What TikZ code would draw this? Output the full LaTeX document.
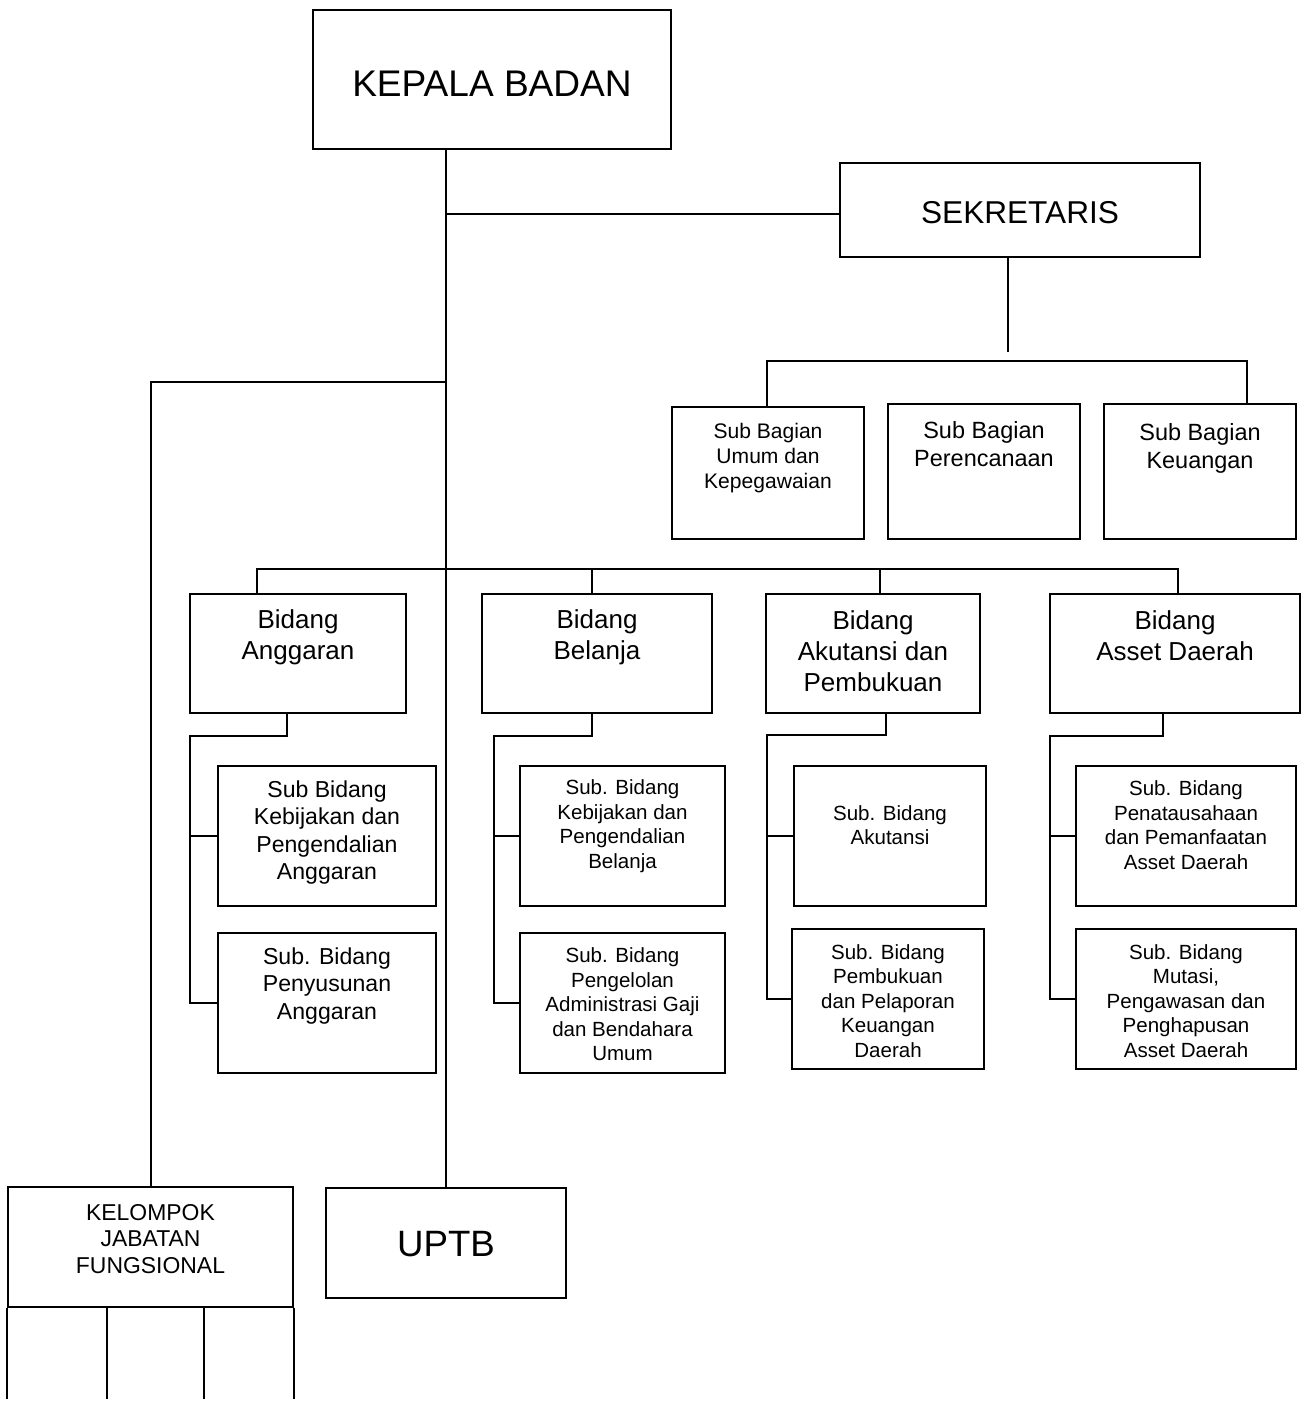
\documentclass[tikz,border=0pt]{standalone}
\usepackage{fontspec}
\setmainfont{Liberation Sans}
\newcommand\myfs[2]{\fontsize{#1}{#2}\selectfont}
\begin{document}
\begin{tikzpicture}[x=0.75pt,y=-0.75pt,
  box/.style={draw, line width=1.4pt, inner sep=0pt},
  sz/.style 2 args={minimum width=#1*0.75pt, minimum height=#2*0.75pt},
  txt/.style={align=center, inner sep=0pt},
  conn/.style={line width=1.4pt}]
\useasboundingbox (0,0) rectangle (1302,1401);
\fill[white] (0,0) rectangle (1302,1401);
% boxes
\node[box, sz={358}{139}] (kb) at (492,79.5) {};
\node[box, sz={360}{94}] (sek) at (1020,210) {};
\node[box, sz={192}{132}] (sb1) at (768,473) {};
\node[box, sz={192}{135}] (sb2) at (984,471.5) {};
\node[box, sz={192}{135}] (sb3) at (1200,471.5) {};
\node[box, sz={216}{119}] (bid1) at (298,653.5) {};
\node[box, sz={230}{119}] (bid2) at (597,653.5) {};
\node[box, sz={214}{119}] (bid3) at (873,653.5) {};
\node[box, sz={250}{119}] (bid4) at (1175,653.5) {};
\node[box, sz={218}{140}] (a1) at (327,836) {};
\node[box, sz={218}{140}] (a2) at (327,1003) {};
\node[box, sz={205}{140}] (be1) at (622.5,836) {};
\node[box, sz={205}{140}] (be2) at (622.5,1003) {};
\node[box, sz={192}{140}] (ak1) at (890,836) {};
\node[box, sz={192}{140}] (ak2) at (888,999) {};
\node[box, sz={220}{140}] (as1) at (1186,836) {};
\node[box, sz={220}{140}] (as2) at (1186,999) {};
\node[box, sz={240}{110}] (uptb) at (446,1243) {};
\node[box, sz={285}{120}] (kjf) at (150.5,1247) {};
% texts
\node[txt, font=\myfs{27.8}{30}] (tkb) at (492,84) {KEPALA BADAN};
\node[txt, font=\myfs{23.7}{26}] (tsek) at (1020,213) {SEKRETARIS};
\node[txt, font=\myfs{27.5}{30}] (tuptb) at (446,1244) {UPTB};
\node[txt, font=\myfs{15.8}{18.75}] (tsb1) at (768,458) {Sub Bagian\\Umum dan\\Kepegawaian};
\node[txt, font=\myfs{17.6}{21}] (tsb2) at (984,444) {Sub Bagian\\Perencanaan};
\node[txt, font=\myfs{17.6}{21}] (tsb3) at (1200,448) {Sub Bagian\\Keuangan};
\node[txt, font=\myfs{19.5}{23.5}] (tbid1) at (298,637.5) {Bidang\\Anggaran};
\node[txt, font=\myfs{19.5}{23.5}] (tbid2) at (597,637.5) {Bidang\\Belanja};
\node[txt, font=\myfs{19.5}{23.25}] (tbid3) at (873,651) {Bidang\\Akutansi dan\\Pembukuan};
\node[txt, font=\myfs{19.5}{23.25}] (tbid4) at (1175,635.5) {Bidang\\Asset Daerah};
\node[txt, font=\myfs{17.3}{20.4}] (ta1) at (327,832.5) {Sub Bidang\\Kebijakan dan\\Pengendalian\\Anggaran};
\node[txt, font=\myfs{17.3}{20.4}] (ta2) at (327,986) {Sub. Bidang\\Penyusunan\\Anggaran};
\node[txt, font=\myfs{15.4}{18.4}] (tbe1) at (622.5,826) {Sub. Bidang\\Kebijakan dan\\Pengendalian\\Belanja};
\node[txt, font=\myfs{15.4}{18.4}] (tbe2) at (622.5,1004.5) {Sub. Bidang\\Pengelolan\\Administrasi Gaji\\dan Bendahara\\Umum};
\node[txt, font=\myfs{15.4}{18.4}] (tak1) at (890,825) {Sub. Bidang\\Akutansi};
\node[txt, font=\myfs{15.4}{18.4}] (tak2) at (888,1001) {Sub. Bidang\\Pembukuan\\dan Pelaporan\\Keuangan\\Daerah};
\node[txt, font=\myfs{15.4}{18.4}] (tas1) at (1186,825) {Sub. Bidang\\Penatausahaan\\dan Pemanfaatan\\Asset Daerah};
\node[txt, font=\myfs{15.4}{18.4}] (tas2) at (1186,1001) {Sub. Bidang\\Mutasi,\\Pengawasan dan\\Penghapusan\\Asset Daerah};
\node[txt, font=\myfs{17.2}{19.9}] (tkjf) at (150.5,1239) {KELOMPOK\\JABATAN\\FUNGSIONAL};
% junction coordinates
\coordinate (j1) at (446,214);
\coordinate (j2) at (1008,352);
\coordinate (j3) at (767,361);
\coordinate (j4) at (1247,361);
\coordinate (j5) at (446,382);
\coordinate (j6) at (151,382);
\coordinate (b0) at (257,569);
\coordinate (b1) at (592,569);
\coordinate (b2) at (880,569);
\coordinate (b3) at (1178,569);
\coordinate (ga) at (287,736);
\coordinate (gb) at (190,736);
\coordinate (ea) at (592,736);
\coordinate (eb) at (494,736);
\coordinate (ka) at (886,735);
\coordinate (kb2) at (767,735);
\coordinate (sa) at (1163,736);
\coordinate (sbb) at (1050,736);
% connectors
\draw[conn] (kb.south -| uptb.north) -- (uptb.north);
\draw[conn] (j1) -- (j1 -| sek.west);
\draw[conn] (sek.south -| j2) -- (j2);
\draw[conn] (j3 |- sb1.north) -- (j3) -- (j4) -- (j4 |- sb3.north);
\draw[conn] (j5) -- (j6) -- (j6 |- kjf.north);
\draw[conn] (b0 |- bid1.north) -- (b0) -- (b3) -- (b3 |- bid4.north);
\draw[conn] (b1) -- (b1 |- bid2.north);
\draw[conn] (b2) -- (b2 |- bid3.north);
\draw[conn] (bid1.south -| ga) -- (ga) -- (gb) -- (gb |- a2.west) -- (a2.west);
\draw[conn] (gb |- a1.west) -- (a1.west);
\draw[conn] (bid2.south -| ea) -- (ea) -- (eb) -- (eb |- be2.west) -- (be2.west);
\draw[conn] (eb |- be1.west) -- (be1.west);
\draw[conn] (bid3.south -| ka) -- (ka) -- (kb2) -- (kb2 |- ak2.west) -- (ak2.west);
\draw[conn] (kb2 |- ak1.west) -- (ak1.west);
\draw[conn] (bid4.south -| sa) -- (sa) -- (sbb) -- (sbb |- as2.west) -- (as2.west);
\draw[conn] (sbb |- as1.west) -- (as1.west);
% open lower part of KELOMPOK JABATAN FUNGSIONAL
\coordinate (kbot) at (150.5,1399);
\coordinate (d1) at (107,1307);
\coordinate (d2) at (204,1307);
\draw[conn] (kjf.south west) -- (kjf.south west |- kbot);
\draw[conn] (kjf.south east) -- (kjf.south east |- kbot);
\draw[conn] (d1) -- (d1 |- kbot);
\draw[conn] (d2) -- (d2 |- kbot);
\end{tikzpicture}
\end{document}
